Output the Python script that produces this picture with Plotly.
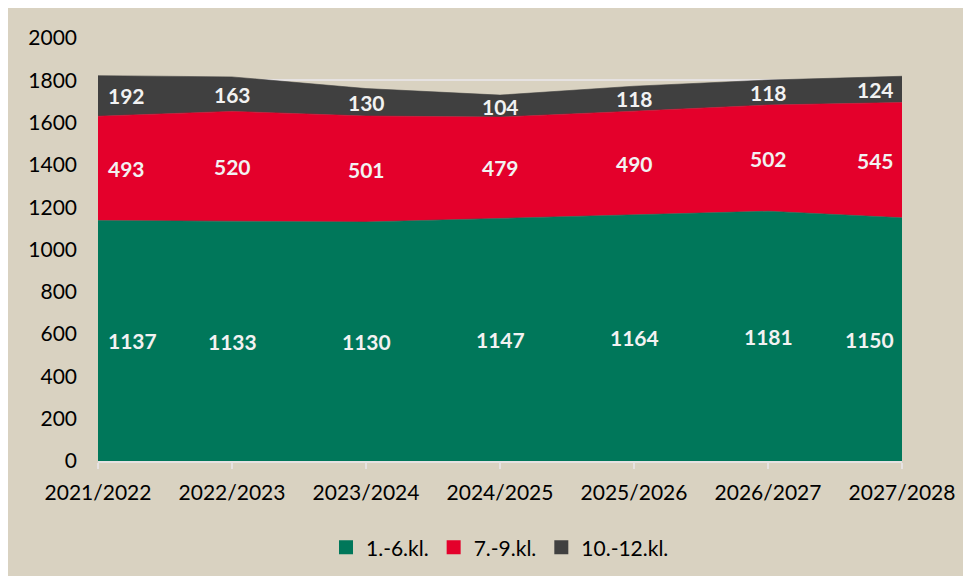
import plotly.graph_objects as go

categories = ["2021/2022", "2022/2023", "2023/2024", "2024/2025", "2025/2026", "2026/2027", "2027/2028"]
grade_1_6 = [1137, 1133, 1130, 1147, 1164, 1181, 1150]
grade_7_9 = [493, 520, 501, 479, 490, 502, 545]
grade_10_12 = [192, 163, 130, 104, 118, 118, 124]
series_names = ["1.-6.kl.", "7.-9.kl.", "10.-12.kl."]
y_ticks = [0, 200, 400, 600, 800, 1000, 1200, 1400, 1600, 1800, 2000]

colors = ["#00775A", "#E4002B", "#404040"]
beige = "#D9D2C1"
font_family = "Lato, 'Open Sans', sans-serif"

fig = go.Figure()
all_series = [grade_1_6, grade_7_9, grade_10_12]
for name, vals, col in zip(series_names, all_series, colors):
    fig.add_trace(go.Scatter(
        x=categories, y=vals, name=name, mode="lines",
        stackgroup="one", line=dict(width=0.6, color=col),
        fillcolor=col, hoverinfo="x+y", showlegend=False,
    ))
# legend entries with square swatches
for name, col in zip(series_names, colors):
    fig.add_trace(go.Scatter(
        x=[None], y=[None], name=name, mode="markers",
        marker=dict(symbol="square", size=14, color=col), showlegend=True,
    ))

# data labels in the middle of each band
base = [0] * len(categories)
n = len(categories)
for vals in all_series:
    for i, (c, v) in enumerate(zip(categories, vals)):
        anchor, shift = "center", 0
        if i == 0:
            anchor, shift = "left", 8
        elif i == n - 1:
            anchor, shift = "right", -6
        fig.add_annotation(
            x=c, y=base[i] + v / 2, text=str(v), showarrow=False,
            xanchor=anchor, xshift=shift,
            font=dict(family=font_family, size=21, color="#F2F2F2", weight="bold"),
        )
    base = [b + v for b, v in zip(base, vals)]

fig.update_layout(
    width=971, height=576,
    margin=dict(l=90, r=77, t=30, b=123),
    paper_bgcolor=beige, plot_bgcolor=beige,
    font=dict(family=font_family, size=21, color="#000000"),
    showlegend=True,
    legend=dict(orientation="h", x=0.5, xanchor="center", y=-0.205, yanchor="middle",
                traceorder="normal", font=dict(family=font_family, size=21, color="#000000"),
                bgcolor="rgba(0,0,0,0)", itemwidth=30),
    xaxis=dict(
        type="category", range=[0, n - 1], showgrid=False,
        showline=True, linecolor="#E6E2E2", linewidth=1.5,
        ticks="outside", ticklen=6, tickcolor="#E6E2E2", tickwidth=1.5,
        tickfont=dict(size=21), ticklabelstandoff=6,
    ),
    yaxis=dict(
        range=[0, 2000], tickvals=y_ticks, showgrid=True,
        gridcolor="#E6E2E2", gridwidth=1.5, zeroline=False,
        showline=False, ticks="", tickfont=dict(size=21), ticklabelstandoff=20,
    ),
)

fig.write_html("out.html")
